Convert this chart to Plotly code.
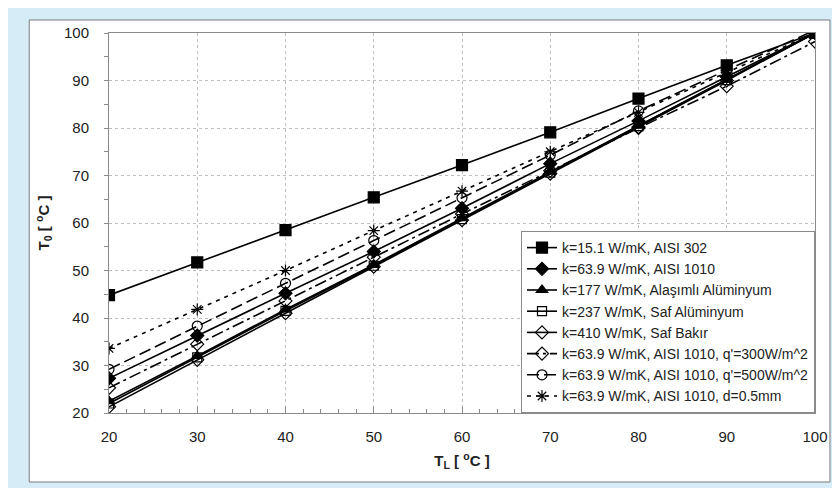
import plotly.graph_objects as go

T_L = [20, 30, 40, 50, 60, 70, 80, 90, 100]

names = [
    "k=15.1 W/mK, AISI 302",
    "k=63.9 W/mK, AISI 1010",
    "k=177 W/mK, Alaşımlı Alüminyum",
    "k=237 W/mK, Saf Alüminyum",
    "k=410 W/mK, Saf Bakır",
    "k=63.9 W/mK, AISI 1010, q'=300W/m^2",
    "k=63.9 W/mK, AISI 1010, q'=500W/m^2",
    "k=63.9 W/mK, AISI 1010, d=0.5mm",
]

s_aisi302 = [44.8, 51.7, 58.5, 65.4, 72.2, 79.1, 86.2, 93.2, 100.0]
s_aisi1010 = [27.3, 36.3, 45.2, 54.0, 63.1, 72.5, 81.5, 90.8, 100.0]
s_alasimli = [22.5, 32.0, 41.8, 51.2, 61.0, 70.8, 80.5, 90.2, 100.0]
s_safal = [22.0, 31.7, 41.5, 51.0, 60.8, 70.6, 80.4, 90.1, 100.0]
s_bakir = [21.3, 31.2, 41.0, 50.8, 60.6, 70.4, 80.2, 90.0, 100.0]
s_q300 = [25.3, 34.5, 43.6, 52.8, 61.9, 71.0, 80.0, 88.8, 98.2]
s_q500 = [29.2, 38.3, 47.3, 56.3, 65.3, 74.3, 83.6, 92.2, 100.6]
s_d05 = [33.6, 41.8, 50.0, 58.4, 66.7, 75.0, 83.3, 91.6, 100.0]

series = [s_aisi302, s_aisi1010, s_alasimli, s_safal, s_bakir, s_q300, s_q500, s_d05]

styles = [
    dict(symbol="square", size=11, dash="solid"),
    dict(symbol="diamond", size=10, dash="solid"),
    dict(symbol="triangle-up", size=10, dash="solid"),
    dict(symbol="square-open", size=9, dash="solid"),
    dict(symbol="diamond-open", size=10, dash="solid"),
    dict(symbol="diamond-open", size=10, dash="12px,4px,3px,4px"),
    dict(symbol="circle-open", size=10, dash="12px,5px"),
    dict(symbol="asterisk-open", size=10, dash="4px,5px"),
]

fig = go.Figure()
for name, ys, st in zip(names, series, styles):
    fig.add_trace(go.Scatter(
        x=T_L, y=ys, name=name, mode="lines+markers",
        line=dict(color="black", width=1.6, dash=st["dash"]),
        marker=dict(symbol=st["symbol"], size=st["size"], color="black",
                    line=dict(color="black", width=1.2)),
    ))

# page offset of the figure (body margin)
OFF = 8
FW, FH = 840 - OFF, 488 - OFF
L, R, T, B = 109 - OFF, 817 - OFF, 33 - OFF, 413 - OFF
W, H = R - L, B - T

def px(x):
    return (x - OFF - L) / W

def py(y):
    return (B - (y - OFF)) / H

fig.add_shape(type="rect", xref="paper", yref="paper",
              x0=px(29), x1=px(832), y0=py(482), y1=py(20),
              fillcolor="white", line=dict(color="#7a7a7a", width=1), layer="below")

FONT = "Arial, Liberation Sans, sans-serif"
axis_font = dict(family=FONT, size=15, color="#222")

fig.update_xaxes(
    range=[20, 100], tickvals=[20, 30, 40, 50, 60, 70, 80, 90, 100],
    showgrid=True, gridcolor="#bdbdbd", griddash="dot", gridwidth=1,
    showline=True, linecolor="#8a8a8a", linewidth=1, mirror=True,
    ticks="inside", ticklen=6, tickcolor="#8a8a8a",
    minor=dict(dtick=2, ticks="inside", ticklen=4, tickcolor="#8a8a8a", showgrid=False),
    tickfont=axis_font, zeroline=False, ticklabelstandoff=10,
    title=dict(text="<b>T<sub>L</sub> [ <sup>o</sup>C ]</b>", font=dict(family=FONT, size=15, color="#222"), standoff=11),
)
fig.update_yaxes(
    range=[20, 100], tickvals=[20, 30, 40, 50, 60, 70, 80, 90, 100],
    showgrid=True, gridcolor="#bdbdbd", griddash="dot", gridwidth=1,
    showline=True, linecolor="#8a8a8a", linewidth=1, mirror=True,
    ticks="outside", ticklen=4, tickcolor="#8a8a8a",
    minor=dict(dtick=5, ticks="outside", ticklen=4, tickcolor="#8a8a8a", showgrid=False),
    tickfont=axis_font, zeroline=False, ticklabelstandoff=12,
    title=dict(text="<b>T<sub>0</sub> [ <sup>o</sup>C ]</b>", font=dict(family=FONT, size=15, color="#222"), standoff=10),
)

fig.update_layout(
    width=FW, height=FH,
    margin=dict(l=L, r=FW - R, t=T, b=FH - B),
    paper_bgcolor="#d6ecf7", plot_bgcolor="white",
    font=dict(family=FONT, color="#222"),
    legend=dict(x=1, y=0, xanchor="right", yanchor="bottom",
                bgcolor="white", bordercolor="#8a8a8a", borderwidth=1,
                font=dict(family=FONT, size=14, color="#222"),
                tracegroupgap=0, itemwidth=30),
    showlegend=True,
)

fig.write_html("out.html")
